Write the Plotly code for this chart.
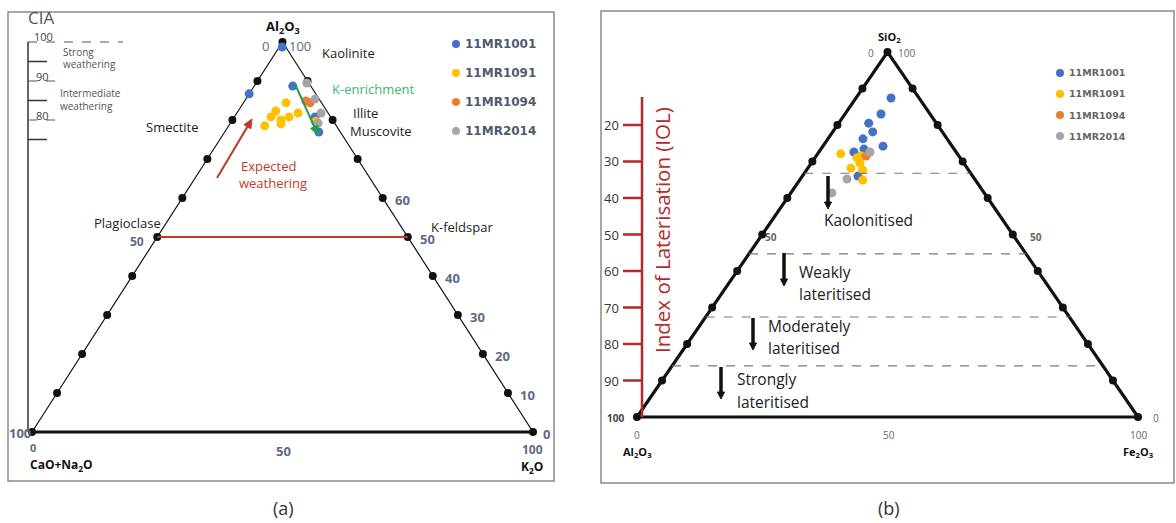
import math
import plotly.graph_objects as go

W, H = 1176, 523

# ---------------- data: panel (a)  A-CN-K  (Al2O3, CaO+Na2O, K2O) ----------------
series_names = ["11MR1001", "11MR1091", "11MR1094", "11MR2014"]
series_colors = ["#4472C4", "#FFC000", "#ED7D31", "#A5A5A5"]

a_al_1001 = [98.7, 86.7, 88.7, 80.8, 79.5, 76.9]
a_cn_1001 = [0.7, 13.3, 3.6, 3.1, 3.6, 4.3]
a_k_1001 = [0.6, 0.0, 7.7, 16.1, 16.9, 18.8]

a_al_1091 = [84.4, 82.3, 81.8, 80.8, 80.8, 80.0, 79.0, 78.5, 79.7]
a_cn_1091 = [7.1, 10.2, 6.0, 8.3, 11.9, 10.3, 10.8, 14.3, 3.5]
a_k_1091 = [8.5, 7.5, 12.2, 10.9, 7.3, 9.7, 10.2, 7.2, 16.8]

a_al_1094 = [84.9, 84.4]
a_cn_1094 = [2.9, 2.3]
a_k_1094 = [12.2, 13.3]

a_al_2014 = [89.5, 85.4, 81.8, 79.2]
a_cn_2014 = [0.4, 0.8, 1.4, 3.3]
a_k_2014 = [10.1, 13.8, 16.8, 17.5]

# ---------------- data: panel (b)  SiO2-Al2O3-Fe2O3 ----------------
b_si_1001 = [87.4, 83.0, 80.5, 78.1, 76.2, 74.2, 73.4, 72.6, 66.0]
b_al_1001 = [5.6, 9.8, 13.5, 13.9, 16.8, 13.8, 18.0, 20.4, 22.9]
b_fe_1001 = [7.0, 7.2, 6.0, 8.0, 7.0, 12.0, 8.6, 7.0, 11.1]

b_si_1091 = [72.1, 71.0, 69.6, 68.2, 67.7, 64.9, 71.5]
b_al_1091 = [23.3, 20.6, 20.7, 23.2, 21.1, 22.5, 19.4]
b_fe_1091 = [4.6, 8.4, 9.7, 8.6, 11.2, 12.6, 9.1]

b_si_1094 = [71.5]
b_al_1094 = [18.5]
b_fe_1094 = [10.0]

b_si_2014 = [72.6, 65.2, 61.4]
b_al_2014 = [17.2, 25.5, 30.4]
b_fe_2014 = [10.2, 9.3, 8.2]

side_ticks = [10, 20, 30, 40, 50, 60, 70, 80, 90]
a_right_labels = [0, 10, 20, 30, 40, 50, 60]
cia_levels = [100, 90, 80]
cia_minor = [95, 85, 75]
iol_ticks = [20, 30, 40, 50, 60, 70, 80, 90]
iol_boundaries = [33.2, 55.3, 72.6, 86.0]

FONT = "Open Sans"


def tern(top, left, right):
    xs, ys = [], []
    for t, l, r in zip(top, left, right):
        s = t + l + r
        y = 100.0 * t / s
        x = 100.0 * r / s + y / 2.0
        xs.append(x)
        ys.append(y)
    return xs, ys


def P(px, py):
    return px / W, 1 - py / H


fig = go.Figure()

BLACK = "#111111"
RED = "#c0392b"
SLATE = "#5b6b82"

# ---------------- triangles ----------------
for xa, ya, side_w, base_w in (("x", "y", 1.2, 3.2), ("x2", "y2", 3.2, 3.2)):
    fig.add_trace(go.Scatter(x=[0, 50, 100], y=[0, 100, 0], mode="lines",
                             line=dict(color=BLACK, width=side_w), xaxis=xa, yaxis=ya,
                             showlegend=False, hoverinfo="skip"))
    fig.add_trace(go.Scatter(x=[0, 100], y=[0, 0], mode="lines",
                             line=dict(color=BLACK, width=base_w), xaxis=xa, yaxis=ya,
                             showlegend=False, hoverinfo="skip"))
    dx = [t / 2 for t in side_ticks] + [100 - t / 2 for t in side_ticks] + [0, 50, 100]
    dy = list(side_ticks) + list(side_ticks) + [0, 100, 0]
    fig.add_trace(go.Scatter(x=dx, y=dy, mode="markers",
                             marker=dict(color=BLACK, size=8), xaxis=xa, yaxis=ya,
                             showlegend=False, hoverinfo="skip"))

# ---------------- panel (a) extras ----------------
shapes = []
shapes.append(dict(type="line", xref="x", yref="y", x0=25, x1=75, y0=50, y1=50,
                   line=dict(color=RED, width=2)))
cx = (28 - 32) / 5.01
shapes.append(dict(type="line", xref="x", yref="y", x0=cx, x1=cx, y0=0, y1=100,
                   line=dict(color="#333333", width=1.5)))
for v in cia_minor:
    shapes.append(dict(type="line", xref="x", yref="y", x0=cx, x1=(47 - 32) / 5.01, y0=v, y1=v,
                       line=dict(color="#333333", width=1.5)))
for v, xe in zip(cia_levels, [123, 62, 62]):
    shapes.append(dict(type="line", xref="x", yref="y", x0=cx, x1=(xe - 32) / 5.01, y0=v, y1=v,
                       line=dict(color="#555555", width=1, dash="dash")))

# ---------------- panel (b) extras ----------------
ix = (642 - 637) / 5.01
shapes.append(dict(type="line", xref="x2", yref="y2", x0=ix, x1=ix, y0=0, y1=100 - 12.3,
                   line=dict(color="#b22a2a", width=2.5)))
for v in iol_ticks:
    shapes.append(dict(type="line", xref="x2", yref="y2", x0=(623 - 637) / 5.01, x1=ix,
                       y0=100 - v, y1=100 - v, line=dict(color="#b22a2a", width=2.5)))
for v in iol_boundaries:
    h = 100 - v
    shapes.append(dict(type="line", xref="x2", yref="y2", x0=h / 2, x1=100 - h / 2, y0=h, y1=h,
                       line=dict(color="#777777", width=1.1, dash="dash")))

shapes.append(dict(type="rect", xref="paper", yref="paper", x0=8 / W, x1=554 / W,
                   y0=1 - 481 / H, y1=1 - 12 / H, line=dict(color="#8a8a8a", width=1.5)))
shapes.append(dict(type="rect", xref="paper", yref="paper", x0=601 / W, x1=1174 / W,
                   y0=1 - 483 / H, y1=1 - 11 / H, line=dict(color="#8a8a8a", width=1.5)))

# ---------------- data points ----------------
a_sets = [(a_al_1001, a_cn_1001, a_k_1001), (a_al_1091, a_cn_1091, a_k_1091),
          (a_al_1094, a_cn_1094, a_k_1094), (a_al_2014, a_cn_2014, a_k_2014)]
b_sets = [(b_si_1001, b_al_1001, b_fe_1001), (b_si_1091, b_al_1091, b_fe_1091),
          (b_si_1094, b_al_1094, b_fe_1094), (b_si_2014, b_al_2014, b_fe_2014)]
for name, col, (t, l, r) in zip(series_names, series_colors, a_sets):
    xs, ys = tern(t, l, r)
    fig.add_trace(go.Scatter(x=xs, y=ys, mode="markers", name=name, xaxis="x", yaxis="y",
                             marker=dict(color=col, size=9), showlegend=False))
for name, col, (t, l, r) in zip(series_names, series_colors, b_sets):
    xs, ys = tern(t, l, r)
    fig.add_trace(go.Scatter(x=xs, y=ys, mode="markers", name=name, xaxis="x2", yaxis="y2",
                             marker=dict(color=col, size=9), showlegend=False))

for i, (name, col) in enumerate(zip(series_names, series_colors)):
    py = 44 + 29 * i
    shapes.append(dict(type="circle", xref="paper", yref="paper",
                       x0=(456 - 4) / W, x1=(456 + 4) / W, y0=1 - (py + 4) / H, y1=1 - (py - 4) / H,
                       fillcolor=col, line=dict(width=0)))
    py2 = 73 + 21 * i
    shapes.append(dict(type="circle", xref="paper", yref="paper",
                       x0=(1060 - 4) / W, x1=(1060 + 4) / W, y0=1 - (py2 + 4) / H, y1=1 - (py2 - 4) / H,
                       fillcolor=col, line=dict(width=0)))


def arrow(hx, hy, tx, ty, color, width, hl=9, hw=8):
    d = math.hypot(hx - tx, hy - ty)
    ux, uy = (hx - tx) / d, (hy - ty) / d
    bx, by = hx - ux * hl, hy - uy * hl
    x0, y0 = P(tx, ty)
    x1, y1 = P(bx + ux * 1, by + uy * 1)
    shapes.append(dict(type="line", xref="paper", yref="paper", x0=x0, y0=y0, x1=x1, y1=y1,
                       line=dict(color=color, width=width)))
    px_, py_ = -uy, ux
    pts = [(hx, hy), (bx + px_ * hw / 2, by + py_ * hw / 2), (bx - px_ * hw / 2, by - py_ * hw / 2)]
    path = "M " + " L ".join("%f,%f" % P(a, b) for a, b in pts) + " Z"
    shapes.append(dict(type="path", xref="paper", yref="paper", path=path,
                       fillcolor=color, line=dict(color=color, width=1)))


arrow(252, 119, 217, 178, RED, 2)
arrow(318, 135, 295, 84, "#1f9e50", 2)
arrow(828, 209, 828, 176, BLACK, 3.5, 7, 7)
arrow(784, 286, 784, 253, BLACK, 3.5, 7, 7)
arrow(753, 350, 753, 318, BLACK, 3.5, 7, 7)
arrow(721, 399, 721, 367, BLACK, 3.5, 7, 7)

ann = []


def txt(px, py, text, size=13, color="#222222", xanchor="center", family=FONT, textangle=0):
    x, y = P(px, py)
    ann.append(dict(x=x, y=y, xref="paper", yref="paper", text=text, showarrow=False,
                    xanchor=xanchor, yanchor="middle", textangle=textangle,
                    font=dict(size=size, color=color, family=family)))


for i, name in enumerate(series_names):
    txt(463, 44 + 29 * i, "<b>" + name + "</b>", size=12, color="#4f5b6e", xanchor="left",
        family="DejaVu Sans")
    txt(1067, 73 + 21 * i, "<b>" + name + "</b>", size=9.5, color="#666666", xanchor="left",
        family="DejaVu Sans")

# panel (a) texts
txt(41, 17, "CIA", size=17, color="#555555")
txt(43, 36, "100", size=11, color="#444444")
txt(42, 76, "90", size=11, color="#444444")
txt(42, 115, "80", size=11, color="#444444")
txt(61, 52, "Strong", size=10, color="#555555", xanchor="left")
txt(61, 64, "weathering", size=10, color="#555555", xanchor="left")
txt(58, 93, "Intermediate", size=10, color="#555555", xanchor="left")
txt(58, 106, "weathering", size=10, color="#555555", xanchor="left")

txt(283, 27, "<b>Al<sub>2</sub>O<sub>3</sub></b>", size=13, color="#111111")
txt(265, 46, "0", size=13, color=SLATE)
txt(300, 46, "100", size=13, color=SLATE)
txt(348, 53, "Kaolinite", size=13)
txt(373, 89, "K-enrichment", size=13, color="#3fb66e")
txt(365, 113, "Illite", size=13)
txt(381, 131, "Muscovite", size=13)
txt(172, 127, "Smectite", size=13)
txt(127, 223, "Plagioclase", size=13)
txt(462, 227, "K-feldspar", size=13)
txt(268, 166, "Expected", size=13, color=RED)
txt(273, 183, "weathering", size=13, color=RED)
txt(137, 241, "<b>50</b>", size=12, color=SLATE)
for v in a_right_labels:
    px = 533 - 2.505 * v + 20
    py = 432 - 3.9 * v + 2
    txt(px if v > 0 else 546, py, "<b>%d</b>" % v, size=13, color=SLATE)
txt(20, 433, "<b>100</b>", size=13, color=SLATE)
txt(33, 447, "<b>0</b>", size=11, color=SLATE)
txt(283, 451, "<b>50</b>", size=13, color=SLATE)
txt(532, 449, "<b>100</b>", size=12, color=SLATE)
txt(61, 465, "<b>CaO+Na<sub>2</sub>O</b>", size=12, color="#111111")
txt(532, 467, "<b>K<sub>2</sub>O</b>", size=12, color="#111111")
txt(283, 508, "(a)", size=18, color="#333333")

# panel (b) texts
txt(889, 37, "<b>SiO<sub>2</sub></b>", size=11, color="#111111")
txt(871, 53, "0", size=10, color="#666666")
txt(906, 53, "100", size=10, color="#666666")
txt(771, 237, "<b>50</b>", size=10, color="#666666")
txt(1036, 237, "<b>50</b>", size=10, color="#666666")
txt(615, 418, "<b>100</b>", size=10, color="#444444")
txt(1156, 418, "0", size=10, color="#666666")
txt(637, 435, "0", size=10, color="#666666")
txt(889, 435, "50", size=10, color="#666666")
txt(1138, 435, "100", size=10, color="#666666")
txt(637, 452, "<b>Al<sub>2</sub>O<sub>3</sub></b>", size=11, color="#111111")
txt(1138, 452, "<b>Fe<sub>2</sub>O<sub>3</sub></b>", size=11, color="#111111")
for v in iol_ticks:
    txt(621, 52 + 3.65 * v, str(v), size=13, color="#333333", xanchor="right")
txt(662, 230, "Index of Laterisation (IOL)", size=20.5, color="#b22a2a", textangle=-90)
txt(822, 220, "Kaolonitised", size=15.5, xanchor="left")
txt(797, 272, "Weakly", size=15.5, xanchor="left")
txt(797, 294, "lateritised", size=15.5, xanchor="left")
txt(766, 326, "Moderately", size=15.5, xanchor="left")
txt(766, 348, "lateritised", size=15.5, xanchor="left")
txt(735, 379, "Strongly", size=15.5, xanchor="left")
txt(735, 402, "lateritised", size=15.5, xanchor="left")
txt(889, 508, "(b)", size=18, color="#333333")

fig.update_layout(
    width=W, height=H, margin=dict(l=0, r=0, t=0, b=0),
    paper_bgcolor="white", plot_bgcolor="white", showlegend=False,
    xaxis=dict(domain=[0, 0.5], range=[-32 / 5.01, 556 / 5.01], visible=False, fixedrange=True),
    yaxis=dict(domain=[0, 1], range=[-(523 - 432) / 3.9, 432 / 3.9], visible=False, fixedrange=True,
               anchor="x"),
    xaxis2=dict(domain=[0.5, 1], range=[-(637 - 588) / 5.01, (1176 - 637) / 5.01], visible=False,
                fixedrange=True, anchor="y2"),
    yaxis2=dict(domain=[0, 1], range=[-(523 - 417) / 3.65, 417 / 3.65], visible=False,
                fixedrange=True, anchor="x2"),
    shapes=shapes, annotations=ann,
)

fig.write_html("out.html")
